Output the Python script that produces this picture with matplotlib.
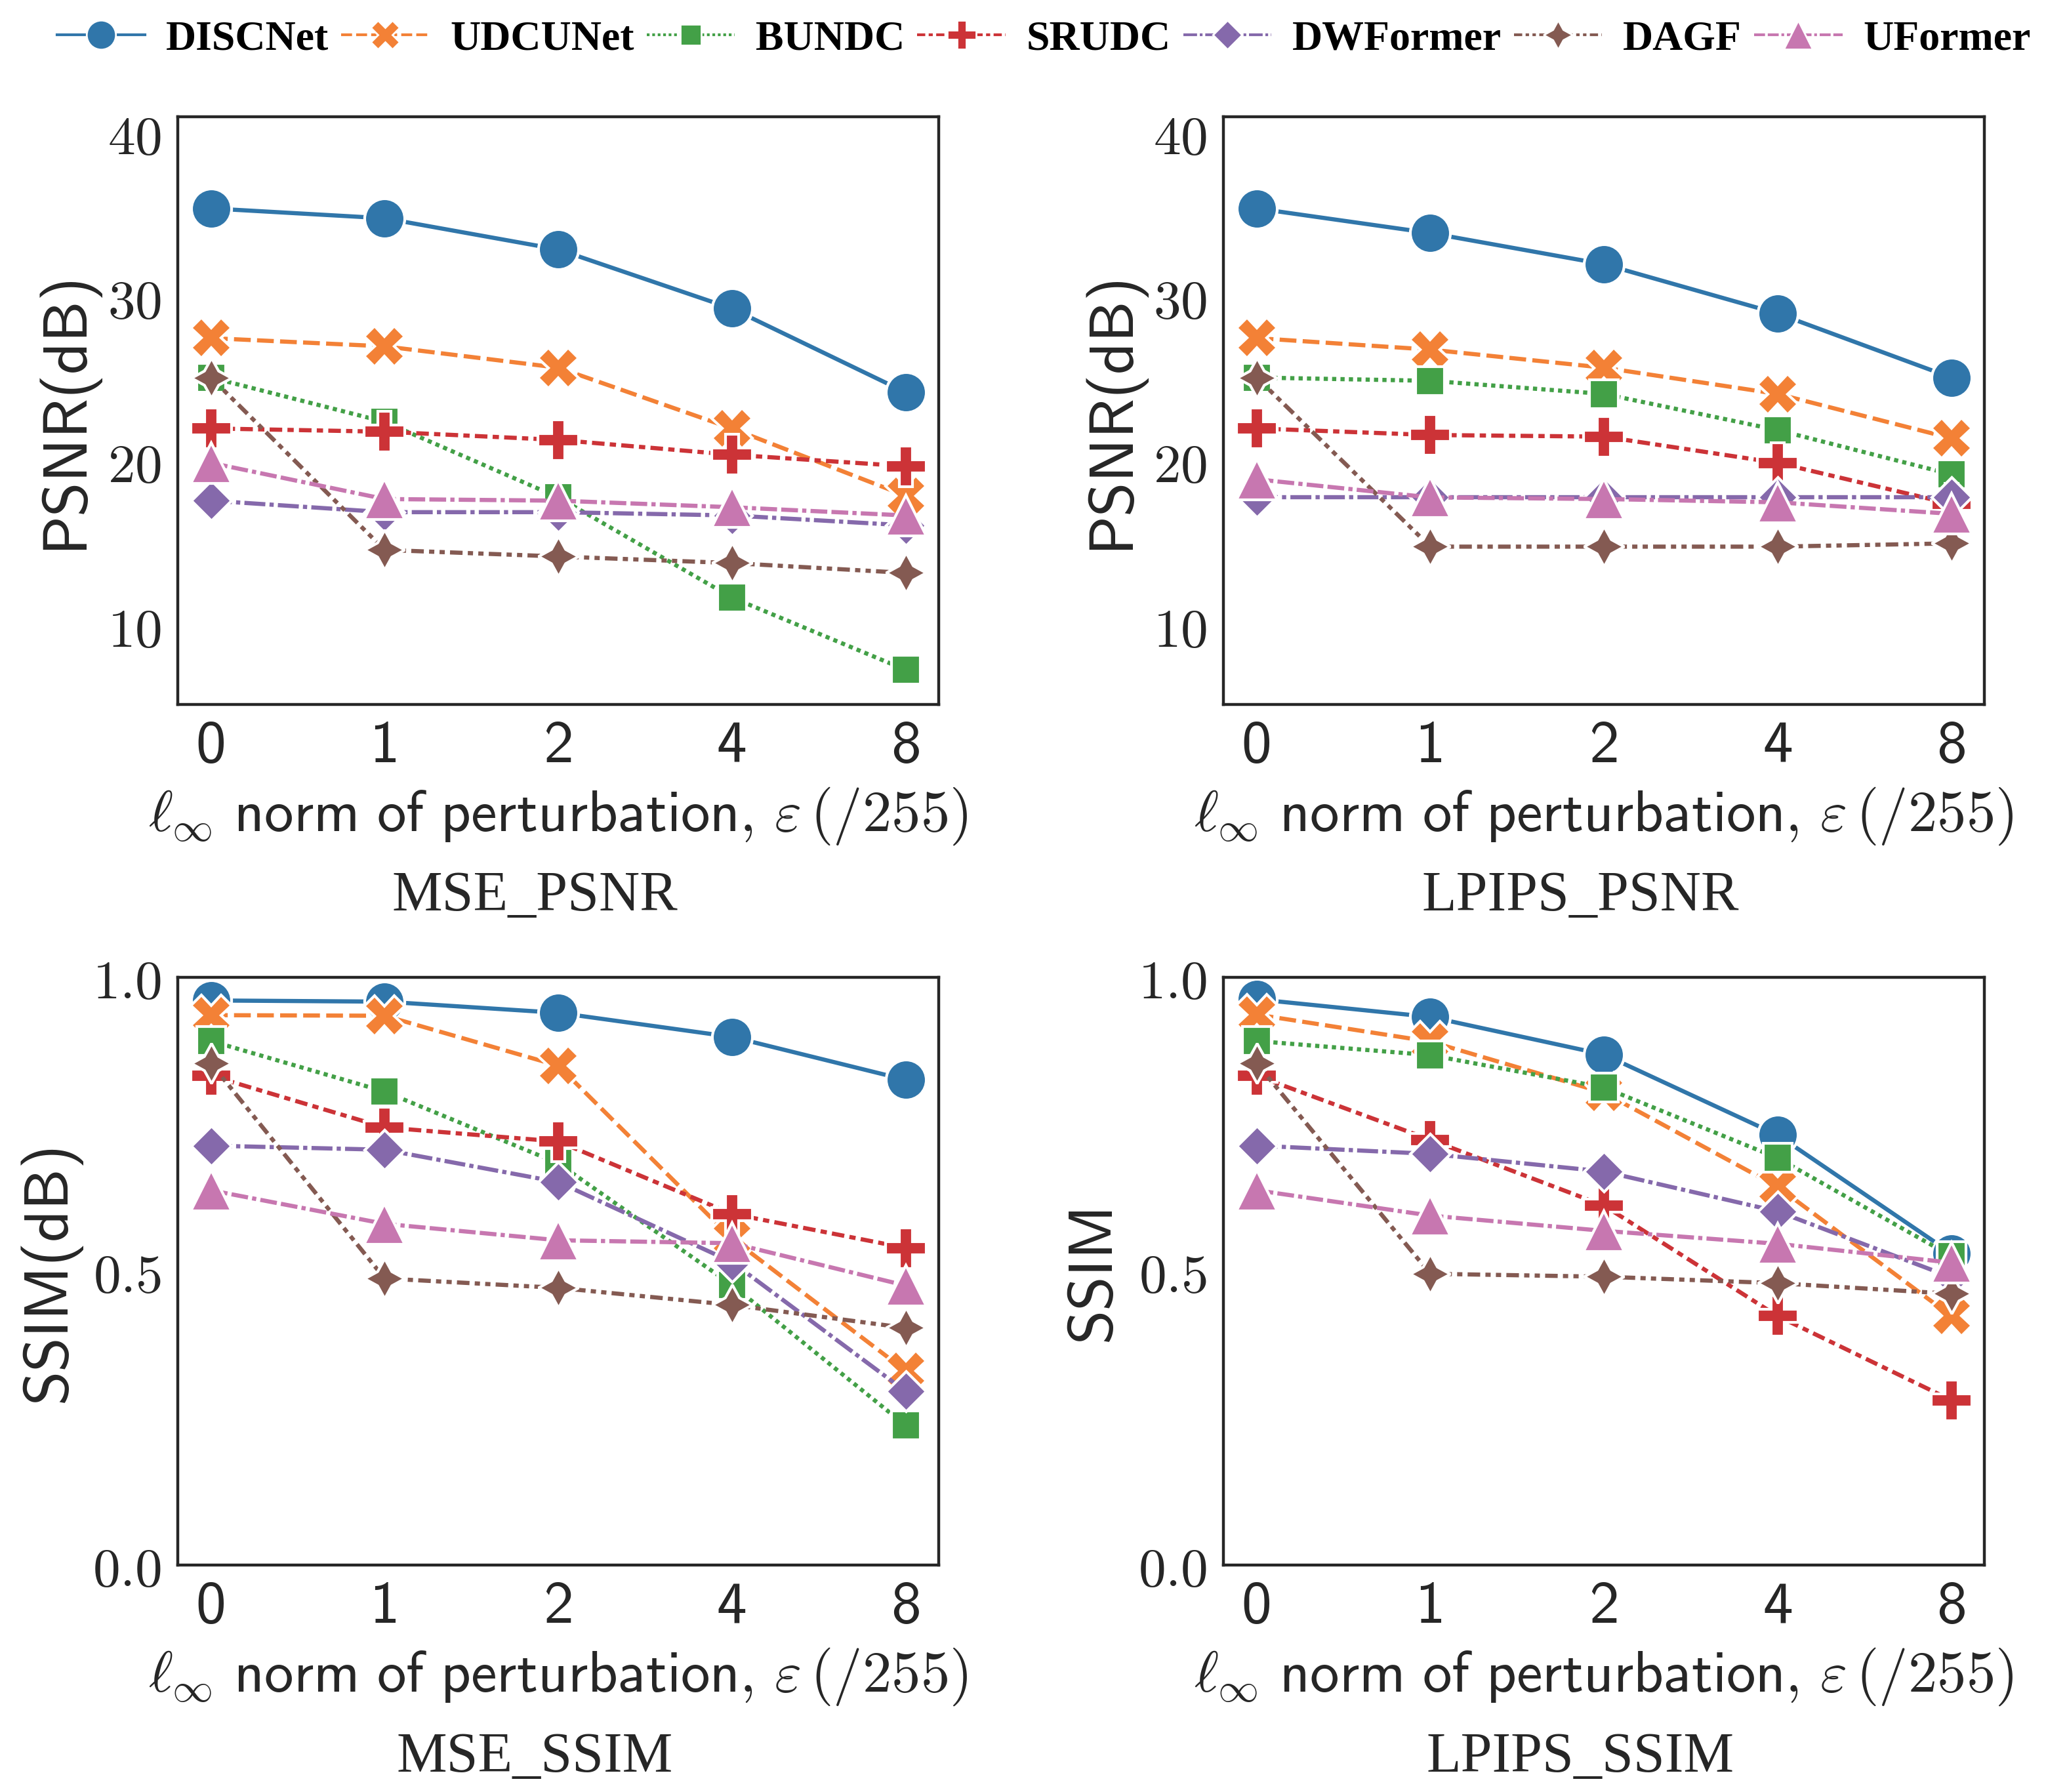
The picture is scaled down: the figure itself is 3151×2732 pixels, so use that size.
import os
import matplotlib
matplotlib.use('Agg')
import matplotlib.pyplot as plt
from matplotlib.lines import Line2D
from matplotlib.font_manager import FontProperties

# x axis: perturbation budget (categorical positions)
eps_labels = ['0', '1', '2', '4', '8']
methods = ['DISCNet', 'UDCUNet', 'BUNDC', 'SRUDC', 'DWFormer', 'DAGF', 'UFormer']

# rows follow the order of `methods`
mse_psnr = [
    [35.4, 34.8, 32.9, 29.3, 24.2],
    [27.5, 27.0, 25.7, 22.0, 17.9],
    [25.1, 22.4, 17.8, 11.7, 7.3],
    [22.0, 21.8, 21.3, 20.4, 19.7],
    [17.6, 16.9, 16.9, 16.7, 16.1],
    [25.1, 14.6, 14.2, 13.8, 13.2],
    [19.9, 17.7, 17.6, 17.2, 16.7],
]
lpips_psnr = [
    [35.4, 33.9, 32.0, 29.0, 25.1],
    [27.5, 26.8, 25.7, 24.1, 21.4],
    [25.1, 24.9, 24.1, 21.9, 19.2],
    [22.0, 21.6, 21.5, 19.9, 17.4],
    [17.8, 17.8, 17.8, 17.8, 17.8],
    [25.1, 14.8, 14.8, 14.8, 15.0],
    [18.9, 17.8, 17.7, 17.5, 16.8],
]
mse_ssim = [
    [0.961, 0.959, 0.940, 0.899, 0.826],
    [0.936, 0.935, 0.850, 0.556, 0.331],
    [0.892, 0.806, 0.684, 0.477, 0.238],
    [0.833, 0.745, 0.721, 0.598, 0.540],
    [0.714, 0.707, 0.652, 0.516, 0.296],
    [0.854, 0.488, 0.472, 0.443, 0.404],
    [0.638, 0.581, 0.553, 0.548, 0.476],
]
lpips_ssim = [
    [0.963, 0.933, 0.869, 0.732, 0.531],
    [0.937, 0.891, 0.804, 0.644, 0.424],
    [0.892, 0.868, 0.813, 0.693, 0.526],
    [0.833, 0.724, 0.612, 0.424, 0.281],
    [0.714, 0.700, 0.670, 0.602, 0.490],
    [0.854, 0.496, 0.491, 0.480, 0.462],
    [0.638, 0.595, 0.569, 0.547, 0.515],
]

colors = ['#3076aa', '#f38136', '#43a047', '#cc3337', '#8569ab', '#845a52', '#c777b0']
markers = ['o', 'X', (4, 0, 45), 'P', (4, 0, 0), (4, 1, 0), '^']
dashes = [None, (4, 1.5), (1, 1), (3, 1.25, 1.5, 1.25), (5, 1, 1, 1),
          (3, 1.25, 1.25, 1.25, 1.25, 1.25), (4, 1, 4, 1, 1, 1)]

TXT = '#262626'
plt.rcParams['mathtext.fontset'] = 'cm'
plt.rcParams['axes.unicode_minus'] = False

# computer modern sans shipped with matplotlib
cmss_path = os.path.join(matplotlib.get_data_path(), 'fonts', 'ttf', 'cmss10.ttf')
sans_tick = FontProperties(fname=cmss_path, size=33)
sans_ylab = FontProperties(fname=cmss_path, size=34)

fig = plt.figure(figsize=(15.755, 13.66), dpi=200)

x_left = [0.0861, 0.592]
y_bottom = [0.607, 0.1265]
w, h = 0.368, 0.328

panels = [
    (mse_psnr, 0, 0, 'PSNR(dB)', 'MSE_PSNR', 'psnr', -0.147),
    (lpips_psnr, 0, 1, 'PSNR(dB)', 'LPIPS_PSNR', 'psnr', -0.147),
    (mse_ssim, 1, 0, 'SSIM(dB)', 'MSE_SSIM', 'ssim', -0.168),
    (lpips_ssim, 1, 1, 'SSIM', 'LPIPS_SSIM', 'ssim', -0.17),
]

xpos = list(range(len(eps_labels)))

for data, r, c, ylab, title, kind, ylx in panels:
    ax = fig.add_axes([x_left[c], y_bottom[r], w, h])
    for i, m in enumerate(methods):
        kw = dict(color=colors[i], marker=markers[i], lw=2.3, ms=22,
                  mec='white', mew=1.5, label=m)
        if dashes[i] is None:
            ax.plot(xpos, data[i], ls='-', **kw)
        else:
            ax.plot(xpos, data[i], ls='--', dashes=dashes[i], **kw)

    ax.set_xlim(-0.19, 4.19)
    ax.set_xticks(xpos)
    ax.set_xticklabels(eps_labels, fontproperties=sans_tick, color=TXT)
    if kind == 'psnr':
        ax.set_ylim(5.2, 41)
        yt = [10, 20, 30, 40]
        ax.set_yticks(yt)
        ax.set_yticklabels([r'$%d$' % v for v in yt], fontsize=30, color=TXT)
    else:
        ax.set_ylim(0, 1)
        yt = [0.0, 0.5, 1.0]
        ax.set_yticks(yt)
        ax.set_yticklabels([r'$%.1f$' % v for v in yt], fontsize=30, color=TXT)

    ax.tick_params(length=0, pad=9)
    for s in ax.spines.values():
        s.set_color(TXT)
        s.set_linewidth(1.6)

    ax.set_xlabel(r'$\ell_\infty\ \mathsf{norm\ of\ perturbation,}\,\varepsilon\,(/255)$',
                  fontsize=32, color=TXT, va='center')
    ax.xaxis.set_label_coords(0.5, -0.19)
    ax.set_ylabel(ylab, fontproperties=sans_ylab, color=TXT, va='center')
    ax.yaxis.set_label_coords(ylx, 0.5)
    ax.text(0.469, -0.328, title, transform=ax.transAxes, ha='center', va='center',
            fontsize=31, family='Liberation Serif', color=TXT)

handles = [Line2D([], [], color=colors[i], marker=markers[i], lw=1.5, ms=16,
                  mec='white', mew=1.0,
                  ls='-' if dashes[i] is None else '--',
                  dashes=dashes[i] if dashes[i] is not None else (None, None))
           for i in range(len(methods))]
fig.legend(handles, methods, loc='center', bbox_to_anchor=(0.505, 0.978), ncol=7,
           frameon=False, handlelength=2.1, columnspacing=0.3, handletextpad=0.5,
           prop={'family': 'Liberation Serif', 'weight': 'bold', 'size': 23})

fig.savefig('out.png', dpi=200, facecolor='white')
